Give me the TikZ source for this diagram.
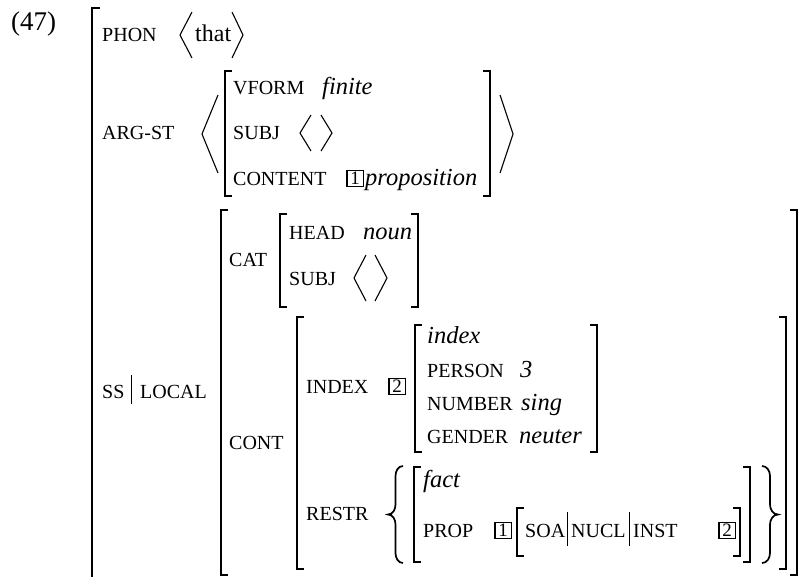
\documentclass[tikz,border=0pt]{standalone}
\usepackage{fontspec}
\setmainfont{Liberation Serif}
\newcommand\LBk[3]{\draw[brk] ({#1+7},#2) -- (#1,#2) -- (#1,#3) -- ({#1+7},#3);}
\newcommand\RBk[3]{\draw[brk] ({#1-7},#2) -- (#1,#2) -- (#1,#3) -- ({#1-7},#3);}
\newcommand\LAng[4]{\draw[ang] (#2,{#3-#4}) -- (#1,#3) -- (#2,{#3+#4});}
\newcommand\RAng[4]{\draw[ang] (#1,{#3-#4}) -- (#2,#3) -- (#1,{#3+#4});}
\begin{document}
\begin{tikzpicture}[x=1pt,y=-1pt,
  txt/.style={anchor=base west, inner sep=0pt, font=\fontsize{24}{28}\selectfont},
  itx/.style={txt, font=\fontsize{24.5}{28}\selectfont\itshape},
  ftx/.style={anchor=base west, inner sep=0pt, font=\fontsize{20}{22}\selectfont},
  brk/.style={line width=1.9pt},
  ang/.style={line width=1.1pt},
  vbar/.style={line width=0.8pt},
  brc/.style={line width=1.7pt},
  tagbox/.style={draw, line width=1.5pt, inner sep=0pt, minimum width=16.5pt, minimum height=16pt,
    font=\fontsize{19}{19}\selectfont, anchor=south west}]
\useasboundingbox (0,0) rectangle (802,576);

% example number
\node[txt, font=\fontsize{27}{30}\selectfont] (num) at (11,30) {(47)};

% outermost bracket
\draw[brk] (100,8) -- (92,8) -- (92,590);

% PHON
\node[ftx] (phon) at (102,41) {PHON};
\LAng{180}{192}{35}{23}
\node[txt] (that) at (195,41) {that};
\RAng{232}{243}{35}{23}

% ARG-ST
\node[ftx] (argst) at (102,139) {ARG-ST};
\LAng{202}{218}{134}{39}
\LBk{225}{71}{196}
\node[ftx] (vform) at (233,94) {VFORM};
\node[itx] (finite) at (322,94) {finite};
\node[ftx] (subja) at (233,139) {SUBJ};
\LAng{300}{311}{133}{18}
\RAng{321}{332}{133}{18}
\node[ftx] (content) at (233,185) {CONTENT};
\node[tagbox] (tga) at (346,187) {1};
\node[itx] (prop) at (365,185) {proposition};
\RBk{490}{71}{196}
\RAng{500}{513}{134}{39}

% SS|LOCAL
\node[ftx] (ss) at (102,398) {SS};
\draw[vbar] (131,375) -- (131,404);
\node[ftx] (local) at (140,398) {LOCAL};
\LBk{221}{210}{575}
\RBk{797}{210}{575}

% CAT
\node[ftx] (cat) at (229,266) {CAT};
\LBk{280}{214}{307}
\node[ftx] (head) at (289,239) {HEAD};
\node[itx] (noun) at (363,239) {noun};
\node[ftx] (subjb) at (289,285) {SUBJ};
\LAng{354}{366}{278}{23}
\RAng{375}{387}{278}{23}
\RBk{418}{214}{307}

% CONT
\node[ftx] (cont) at (229,449) {CONT};
\LBk{297}{317}{569}
\RBk{786}{317}{569}

% INDEX
\node[ftx] (indexf) at (306,393) {INDEX};
\node[tagbox] (tgb) at (388,395) {2};
\LBk{415}{325}{452}
\node[itx] (indexv) at (427,343) {index};
\node[ftx] (person) at (427,377) {PERSON};
\node[itx] (three) at (520,377) {3};
\node[ftx] (number) at (427,410) {NUMBER};
\node[itx] (sing) at (521,410) {sing};
\node[ftx] (gender) at (427,443) {GENDER};
\node[itx] (neuter) at (519,443) {neuter};
\RBk{597}{325}{452}

% RESTR
\node[ftx] (restr) at (306,520) {RESTR};
\draw[brc] (403,466) to[out=180,in=90] (395.5,476) -- (395.5,504.5) to[out=-90,in=0] (388,514.5)
  to[out=0,in=90] (395.5,524.5) -- (395.5,553) to[out=-90,in=180] (403,563);
\LBk{414}{467}{562}
\node[itx] (fact) at (423,487) {fact};
\node[ftx] (propf) at (423,537) {PROP};
\node[tagbox] (tgc) at (494,539) {1};
\LBk{517}{508}{556}
\node[ftx] (soa) at (525,537) {SOA};
\draw[vbar] (567,512) -- (567,546);
\node[ftx] (nucl) at (571,537) {NUCL};
\draw[vbar] (629,512) -- (629,546);
\node[ftx] (inst) at (633,537) {INST};
\node[tagbox] (tgd) at (718,539) {2};
\RBk{740}{508}{556}
\RBk{750}{467}{562}
\draw[brc] (762,466) to[out=0,in=90] (770,476) -- (770,504.5) to[out=-90,in=180] (778,514.5)
  to[out=180,in=90] (770,524.5) -- (770,553) to[out=-90,in=0] (762,563);
\end{tikzpicture}
\end{document}
